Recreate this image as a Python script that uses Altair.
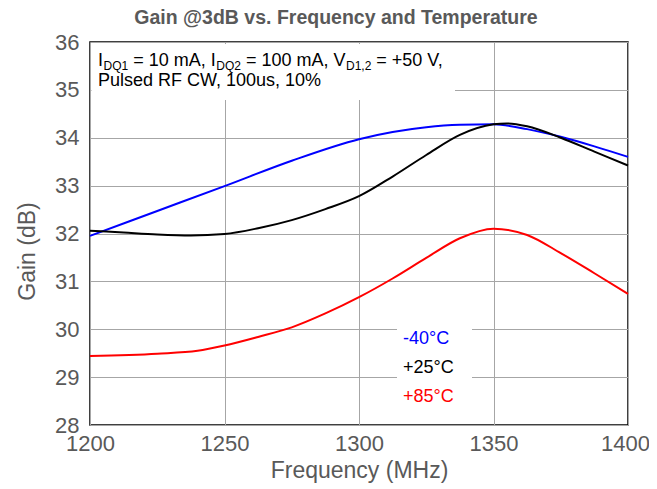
import altair as alt
import pandas as pd

# ---- data ----
freq_m40 = [1200, 1225, 1250, 1275, 1300, 1312.5, 1325, 1337.5, 1350, 1362.5, 1375, 1387.5, 1400]
gain_m40 = [31.95, 32.47, 32.99, 33.52, 33.97, 34.12, 34.22, 34.27, 34.28, 34.18, 34.02, 33.82, 33.60]

freq_p25 = [1200, 1212.5, 1225, 1237.5, 1250, 1262.5, 1275, 1287.5, 1300, 1312.5, 1325, 1337.5, 1350, 1355, 1362.5, 1375, 1387.5, 1400]
gain_p25 = [32.06, 32.02, 31.98, 31.96, 31.99, 32.11, 32.28, 32.51, 32.78, 33.19, 33.64, 34.06, 34.28, 34.30, 34.24, 34.00, 33.71, 33.42]

freq_p85 = [1200, 1225, 1240, 1250, 1262.5, 1275, 1287.5, 1300, 1312.5, 1325, 1337.5, 1350, 1362.5, 1375, 1387.5, 1400]
gain_p85 = [29.44, 29.49, 29.55, 29.66, 29.84, 30.04, 30.33, 30.67, 31.06, 31.49, 31.90, 32.10, 31.97, 31.59, 31.17, 30.74]

series_names = ["-40°C", "+25°C", "+85°C"]
series_colors = ["#0000FF", "#000000", "#FF0000"]

x_ticks = [1200, 1250, 1300, 1350, 1400]
y_ticks = [28, 29, 30, 31, 32, 33, 34, 35, 36]

title_text = "Gain @3dB vs. Frequency and Temperature"
x_title = "Frequency (MHz)"
y_title = "Gain (dB)"

rows = []
for name, fs, gs in zip(series_names, [freq_m40, freq_p25, freq_p85], [gain_m40, gain_p25, gain_p85]):
    for f, g in zip(fs, gs):
        rows.append({"freq": f, "gain": g, "series": name})
df = pd.DataFrame(rows)

W, H = 538, 383
FONT = "Liberation Sans"
GRAY = "#595959"

xs = alt.Scale(domain=[1200, 1400], nice=False, zero=False)
ys = alt.Scale(domain=[28, 36], nice=False, zero=False)

base = alt.Chart(df)

lines = base.mark_line(strokeWidth=2, interpolate="monotone").encode(
    x=alt.X("freq:Q", scale=xs,
            axis=alt.Axis(values=x_ticks, title=x_title, grid=True, gridColor="#A6A6A6",
                          gridWidth=1, ticks=False, domain=False, labelFont=FONT,
                          labelFontSize=22, labelColor=GRAY, labelPadding=8, labelFlush=False,
                          labelOffset={"condition": {"test": "datum.value === 1400", "value": -3}, "value": 0},
                          titleFont=FONT, titleFontSize=23, titleColor=GRAY,
                          titleFontWeight="normal", titlePadding=5, format="d")),
    y=alt.Y("gain:Q", scale=ys,
            axis=alt.Axis(values=y_ticks, title=y_title, grid=True, gridColor="#A6A6A6",
                          gridWidth=1, ticks=False, domain=False, labelFont=FONT,
                          labelFontSize=22, labelColor=GRAY, labelPadding=11, labelFlush=False,
                          titleFont=FONT, titleFontSize=23, titleColor=GRAY,
                          titleFontWeight="normal", titleX=-63, titleY=209,
                          titleBaseline="middle", titleAlign="center", titleAngle=270)),
    color=alt.Color("series:N", scale=alt.Scale(domain=series_names, range=series_colors), legend=None),
)

# white boxes behind the annotation and the legend text (hide grid lines like the reference)
box_df = pd.DataFrame({"x": [1.5, 307], "x2": [365, 382], "y": [2, 278], "y2": [58, 368]})
boxes = alt.Chart(box_df).mark_rect(color="white").encode(
    x=alt.X("x:Q", scale=None), x2="x2:Q", y=alt.Y("y:Q", scale=None), y2="y2:Q"
)

# legend text
leg_df = pd.DataFrame({"label": series_names, "color": series_colors, "py": [297, 326, 355]})
legend = alt.Chart(leg_df).mark_text(align="left", baseline="middle", font=FONT, fontSize=18).encode(
    x=alt.value(313), y=alt.Y("py:Q", scale=None), text="label:N",
    color=alt.Color("color:N", scale=None),
)

# annotation text with subscripts (leading spaces given as offsets, SVG collapses them)
main_size, sub_size = 18, 12
pieces = [
    ("I", False, 0), ("DQ1", True, 0), ("= 10 mA, I", False, 1), ("DQ2", True, 0),
    ("= 100 mA, V", False, 1), ("D1,2", True, 0), ("= +50 V,", False, 1),
]
# Arial/Liberation Sans advance widths (per 1000 em)
adv = {"I": 278, " ": 278, "=": 584, "1": 556, "0": 556, "m": 833, "A": 667, ",": 278,
       "V": 667, "D": 722, "Q": 778, "2": 556, "+": 584, "5": 556}
ann_rows = []
cx = 8
for txt, sub, lead in pieces:
    size = sub_size if sub else main_size
    cx += lead * 0.278 * size
    ann_rows.append({"t": txt, "px": cx + (0.5 if sub else 0), "py": 24 + (4 if sub else 0), "size": size})
    cx += sum(adv.get(c, 556) for c in txt) / 1000 * size + (0.5 if sub else 0)
ann_df = pd.DataFrame(ann_rows)
ann1 = alt.Chart(ann_df).mark_text(align="left", baseline="alphabetic", font=FONT, color="black").encode(
    x=alt.X("px:Q", scale=None), y=alt.Y("py:Q", scale=None), text="t:N",
    size=alt.Size("size:Q", scale=None, legend=None),
)
ann2 = alt.Chart(pd.DataFrame({"t": ["Pulsed RF CW, 100us, 10%"]})).mark_text(
    align="left", baseline="alphabetic", font=FONT, fontSize=18, color="black"
).encode(x=alt.value(8), y=alt.value(44), text="t:N")

title = alt.Chart(pd.DataFrame({"t": [title_text]})).mark_text(
    align="center", baseline="middle", font=FONT, fontSize=19.5, fontWeight="bold", color=GRAY
).encode(x=alt.value(246), y=alt.value(-24), text="t:N")

chart = alt.layer(boxes, lines, legend, ann1, ann2, title).properties(
    width=W, height=H,
    autosize=alt.AutoSizeParams(type="none"),
    padding={"left": 82, "top": 34, "right": 21, "bottom": 58},
).configure_view(stroke="black", strokeWidth=1.5)

chart.save("out.html", embed_options={"renderer": "svg", "actions": False})
